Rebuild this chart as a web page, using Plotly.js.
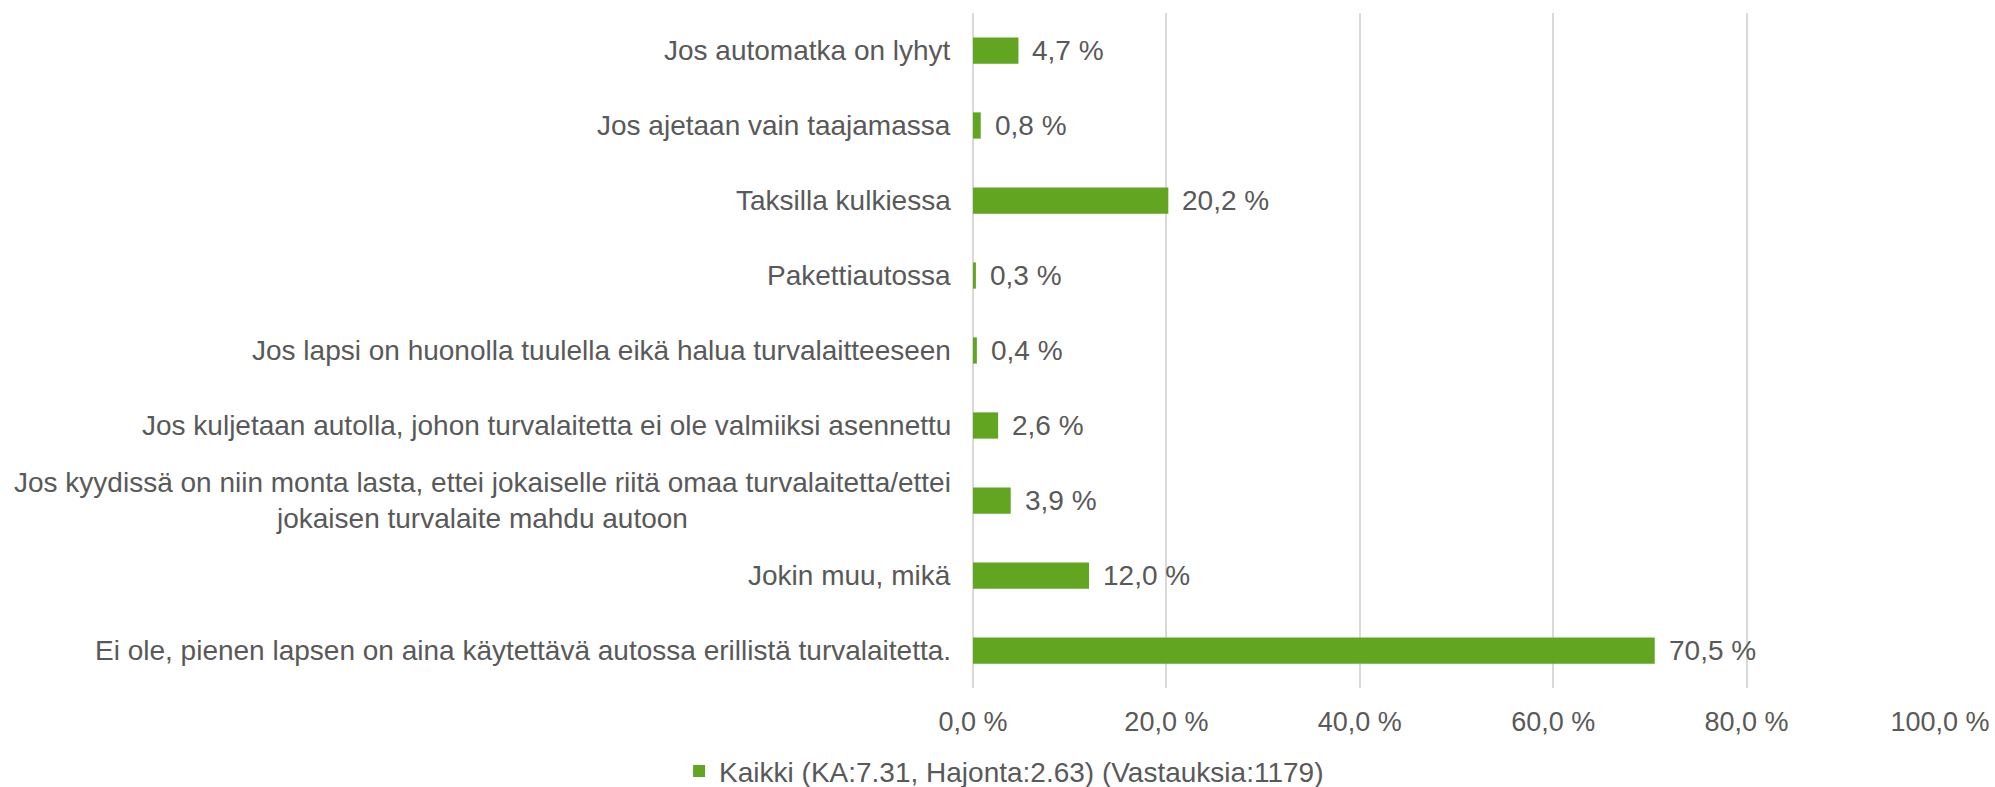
<!DOCTYPE html>
<html>
<head>
<meta charset="utf-8">
<script src="https://cdn.plot.ly/plotly-3.0.1.min.js"></script>
<style>html,body{margin:0;padding:0;background:#fff;}#chart{width:1995px;height:787px;}</style>
</head>
<body>
<div id="chart"></div>
<script>
const categories = [
  "Jos automatka on lyhyt",
  "Jos ajetaan vain taajamassa",
  "Taksilla kulkiessa",
  "Pakettiautossa",
  "Jos lapsi on huonolla tuulella eikä halua turvalaitteeseen",
  "Jos kuljetaan autolla, johon turvalaitetta ei ole valmiiksi asennettu",
  "Jos kyydissä on niin monta lasta, ettei jokaiselle riitä omaa turvalaitetta/ettei<br>jokaisen turvalaite mahdu autoon",
  "Jokin muu, mikä",
  "Ei ole, pienen lapsen on aina käytettävä autossa erillistä turvalaitetta."
];
const values = [4.7, 0.8, 20.2, 0.3, 0.4, 2.6, 3.9, 12.0, 70.5];
const seriesName = "Kaikki (KA:7.31, Hajonta:2.63) (Vastauksia:1179)";
const tickVals = [0, 20, 40, 60, 80, 100];
const tickText = ["0,0 %", "20,0 %", "40,0 %", "60,0 %", "80,0 %", "100,0 %"];

const FONT = "'Liberation Sans', Arial, sans-serif";
const TXT = "#595959";
const fmt = v => v.toFixed(1).replace(".", ",") + " %";

const yIdx = categories.map((c, i) => i);

const trace = {
  type: "bar",
  orientation: "h",
  x: values,
  y: yIdx,
  name: seriesName,
  width: 0.35,
  marker: {color: "#62a521"},
  hoverinfo: "none",
  showlegend: true
};

const annotations = [];
categories.forEach((c, i) => {
  annotations.push({
    xref: "paper", yref: "y", x: 0, y: i,
    xanchor: "right", yanchor: "middle", xshift: -20,
    align: "center", showarrow: false, text: c,
    font: {family: FONT, size: 28, color: TXT}
  });
  annotations.push({
    xref: "x", yref: "y", x: values[i], y: i,
    xanchor: "left", yanchor: "middle", xshift: 12,
    showarrow: false, text: fmt(values[i]),
    font: {family: FONT, size: 28, color: TXT}
  });
});

const layout = {
  width: 1995, height: 787,
  margin: {l: 973, r: 55, t: 13, b: 99, pad: 0},
  paper_bgcolor: "#fff", plot_bgcolor: "#fff",
  font: {family: FONT, size: 27, color: TXT},
  xaxis: {
    range: [0, 100], tickvals: tickVals, ticktext: tickText,
    showgrid: true, gridcolor: "#d9d9d9", gridwidth: 2,
    zeroline: true, zerolinecolor: "#d9d9d9", zerolinewidth: 2,
    showline: false, ticks: "",
    ticklabelstandoff: 15,
    tickfont: {family: FONT, size: 27, color: TXT}, fixedrange: true
  },
  yaxis: {
    range: [8.5, -0.5], showticklabels: false, showgrid: false,
    zeroline: false, showline: false, ticks: "", fixedrange: true
  },
  showlegend: true,
  legend: {
    orientation: "h", xref: "container", yref: "container",
    x: 0.5033, xanchor: "center", y: 0.02, yanchor: "middle",
    font: {family: FONT, size: 28, color: TXT}, itemwidth: 30
  },
  annotations: annotations
};

Plotly.newPlot("chart", [trace], layout, {displayModeBar: false, staticPlot: true});
</script>
</body>
</html>
